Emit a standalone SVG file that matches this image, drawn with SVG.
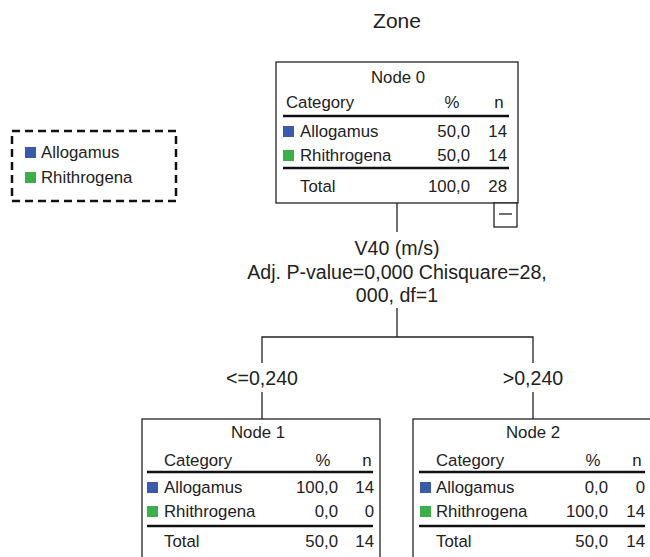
<svg xmlns="http://www.w3.org/2000/svg" width="650" height="557" viewBox="0 0 650 557">
<style>
text{font-family:"Liberation Sans",Arial,sans-serif;fill:#222}
.t{font-size:16.8px}
.big{font-size:19.6px}
.title{font-size:21px}
.box{fill:#fff;stroke:#222;stroke-width:1.3}
.rule{stroke:#111;stroke-width:2.5}
.ln{stroke:#222;stroke-width:1.3;fill:none}
.blue{fill:#3a5ba9}
.green{fill:#3daf4a}
.e{text-anchor:end}
.m{text-anchor:middle}
</style>
<rect width="650" height="557" fill="#fff"/>
<text class="title m" x="397" y="28">Zone</text>
<g id="legend">
<rect x="12" y="131" width="164" height="70" fill="none" stroke="#111" stroke-width="2.5" stroke-dasharray="8,5"/>
<rect class="blue" x="25" y="147" width="11" height="11"/>
<text class="t" x="41" y="158">Allogamus</text>
<rect class="green" x="25" y="172" width="11" height="11"/>
<text class="t" x="41" y="183">Rhithrogena</text>
</g>
<g id="connectors">
<line class="ln" x1="397" y1="203" x2="397" y2="232"/>
<line class="ln" x1="397" y1="308" x2="397" y2="337"/>
<polyline class="ln" points="262,363 262,337 533,337 533,363"/>
<line class="ln" x1="262" y1="392" x2="262" y2="419"/>
<line class="ln" x1="533" y1="392" x2="533" y2="419"/>
<text class="big m" x="262" y="385">&lt;=0,240</text>
<text class="big m" x="533" y="385">&gt;0,240</text>
</g>
<g id="split">
<text class="big m" x="397" y="255">V40 (m/s)</text>
<text class="big m" x="397" y="279">Adj. P-value=0,000 Chisquare=28,</text>
<text class="big m" x="397" y="302">000, df=1</text>
</g>
<g id="node0">
<rect class="box" x="276" y="62" width="242" height="141"/>
<rect class="box" x="494" y="203" width="23" height="24"/>
<line x1="499" y1="214" x2="512" y2="214" stroke="#222" stroke-width="1.3"/>
<text class="t m" x="398" y="83">Node 0</text>
<text class="t" x="286" y="108">Category</text>
<text class="t m" x="452" y="108">%</text>
<text class="t m" x="499" y="108">n</text>
<line class="rule" x1="283" y1="116" x2="509" y2="116"/>
<rect class="blue" x="283" y="126" width="11" height="11"/>
<text class="t" x="300" y="137">Allogamus</text>
<text class="t e" x="470" y="137">50,0</text>
<text class="t e" x="507" y="137">14</text>
<rect class="green" x="283" y="150" width="11" height="11"/>
<text class="t" x="300" y="161">Rhithrogena</text>
<text class="t e" x="470" y="161">50,0</text>
<text class="t e" x="507" y="161">14</text>
<line class="rule" x1="283" y1="168" x2="509" y2="168"/>
<text class="t" x="300" y="192">Total</text>
<text class="t e" x="470" y="192">100,0</text>
<text class="t e" x="507" y="192">28</text>
</g>
<g id="node1">
<rect class="box" x="142" y="419" width="238" height="150"/>
<text class="t m" x="258" y="438">Node 1</text>
<text class="t" x="164" y="466">Category</text>
<text class="t m" x="323" y="466">%</text>
<text class="t m" x="367" y="466">n</text>
<line class="rule" x1="147" y1="472" x2="373" y2="472"/>
<rect class="blue" x="147" y="482" width="11" height="11"/>
<text class="t" x="164" y="493">Allogamus</text>
<text class="t e" x="338" y="493">100,0</text>
<text class="t e" x="374" y="493">14</text>
<rect class="green" x="147" y="506" width="11" height="11"/>
<text class="t" x="164" y="517">Rhithrogena</text>
<text class="t e" x="338" y="517">0,0</text>
<text class="t e" x="374" y="517">0</text>
<line class="rule" x1="147" y1="526" x2="373" y2="526"/>
<text class="t" x="164" y="547">Total</text>
<text class="t e" x="338" y="547">50,0</text>
<text class="t e" x="374" y="547">14</text>
</g>
<g id="node2">
<rect class="box" x="413" y="419" width="240" height="150"/>
<text class="t m" x="533" y="438">Node 2</text>
<text class="t" x="436" y="466">Category</text>
<text class="t m" x="593" y="466">%</text>
<text class="t m" x="637" y="466">n</text>
<line class="rule" x1="419" y1="472" x2="645" y2="472"/>
<rect class="blue" x="420" y="482" width="11" height="11"/>
<text class="t" x="436" y="493">Allogamus</text>
<text class="t e" x="608" y="493">0,0</text>
<text class="t e" x="645" y="493">0</text>
<rect class="green" x="420" y="506" width="11" height="11"/>
<text class="t" x="436" y="517">Rhithrogena</text>
<text class="t e" x="608" y="517">100,0</text>
<text class="t e" x="645" y="517">14</text>
<line class="rule" x1="419" y1="526" x2="645" y2="526"/>
<text class="t" x="436" y="547">Total</text>
<text class="t e" x="608" y="547">50,0</text>
<text class="t e" x="645" y="547">14</text>
</g>
</svg>
